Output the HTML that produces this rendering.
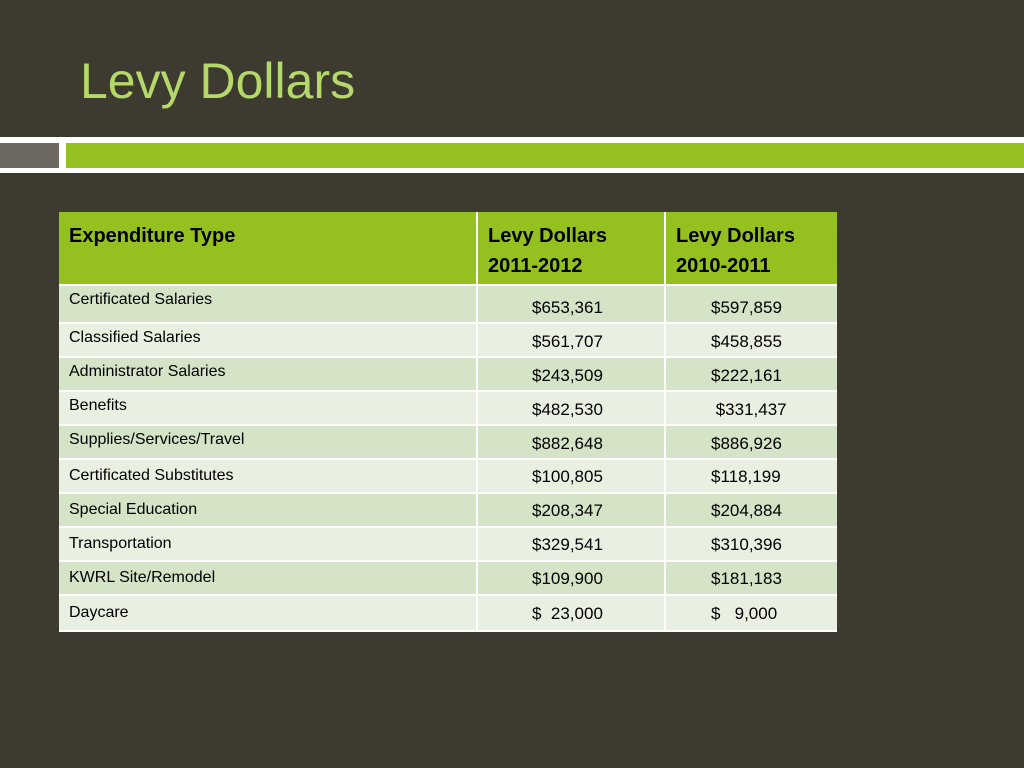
<!DOCTYPE html>
<html><head><meta charset="utf-8"><style>
body{margin:0;width:1024px;height:768px;background:#3d3a2f;position:relative;overflow:hidden;font-family:"Liberation Sans",sans-serif}
.a{position:absolute}
.t{color:#000;font-size:16px;white-space:pre}
</style></head><body>
<div class="a" style="left:80px;top:52px;font-size:50px;color:#b5d86a">Levy Dollars</div>
<div class="a" style="left:0;top:137px;width:1024px;height:36px;background:#fff"></div>
<div class="a" style="left:0;top:143px;width:59px;height:25px;background:#6e6960"></div>
<div class="a" style="left:66px;top:143px;width:958px;height:25px;background:#94c11f"></div>
<div class="a" style="left:0;top:168px;width:1024px;height:2px;background:#fff"></div>
<div id="tbl" class="a" style="left:59px;top:212px;width:778px;height:420px;background:#fff"></div>
<script>
const types=["Certificated Salaries","Classified Salaries","Administrator Salaries","Benefits","Supplies/Services/Travel","Certificated Substitutes","Special Education","Transportation","KWRL Site/Remodel","Daycare"];
const y2012=["$653,361","$561,707","$243,509","$482,530","$882,648","$100,805","$208,347","$329,541","$109,900","$  23,000"];
const y2011=["$597,859","$458,855","$222,161"," $331,437","$886,926","$118,199","$204,884","$310,396","$181,183","$   9,000"];
const t=document.getElementById('tbl');
const cols=[[0,417],[419,186],[607,171]];
const hdr=document.createElement('div');hdr.className='a';


hdr.style.cssText='left:0;top:0;width:778px;height:72px';t.appendChild(hdr);
const heads=["Expenditure Type","Levy Dollars\n2011-2012","Levy Dollars\n2010-2011"];
heads.forEach((h,i)=>{const c=document.createElement('div');c.className='a t';


c.style.cssText=`left:${cols[i][0]}px;top:0;width:${cols[i][1]-10}px;height:72px;background:#94c11f;font-weight:bold;font-size:20px;line-height:30px;padding:9px 0 0 10px;box-sizing:border-box;width:${cols[i][1]}px`;
c.textContent=h;hdr.appendChild(c);});
const bounds=[74,112,146,180,214,248,282,316,350,384,420];
types.forEach((ty,r)=>{const top=bounds[r],h=bounds[r+1]-top-2;const bg=r%2==0?'#d5e3c6':'#e9f0e2';
const row=document.createElement('div');row.className='a';


row.style.cssText=`left:0;top:${top}px;width:778px;height:${h}px`;t.appendChild(row);
const tall=r<5;
[ty,y2012[r],y2011[r]].forEach((v,i)=>{const c=document.createElement('div');c.className='a t';


const pad=i==0?10:(i==1?54:45);
const ty0=i==0?(tall?5:(h-18)/2):(tall?h-24:(h-18)/2);
c.style.cssText=`left:${cols[i][0]}px;top:0;width:${cols[i][1]}px;height:${h}px;background:${bg};font-size:${i==0?16:17}px;padding:${ty0}px 0 0 ${pad}px;box-sizing:border-box`;
c.textContent=v;row.appendChild(c);});});
</script>
</body></html>
